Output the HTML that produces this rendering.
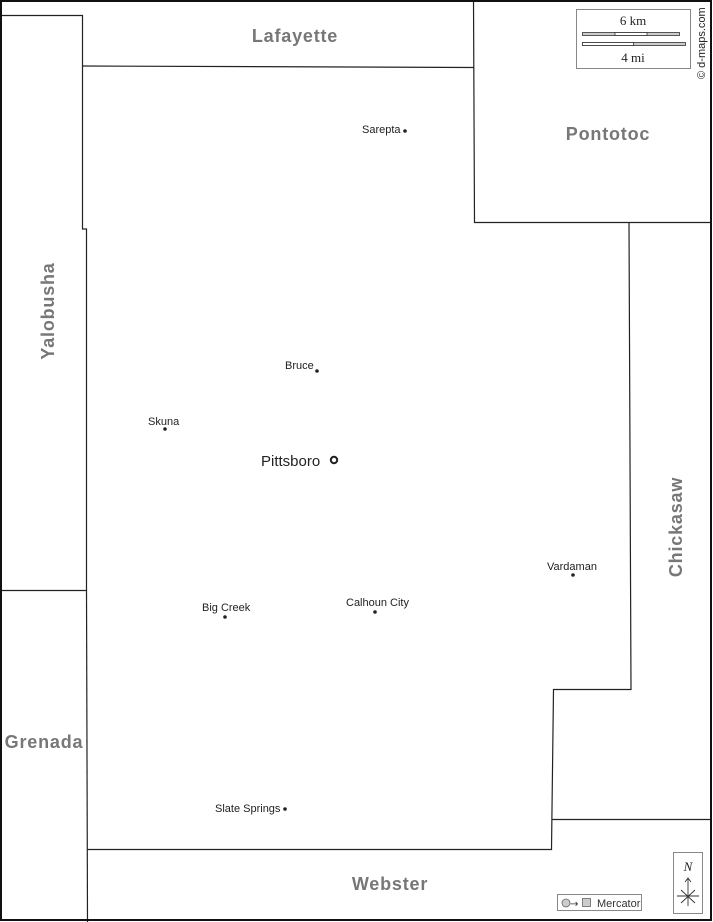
<!DOCTYPE html>
<html><head><meta charset="utf-8"><style>
html,body{margin:0;padding:0;background:#fff}
svg{display:block}
.c{font-family:"Liberation Sans",Arial,sans-serif;font-weight:bold;font-size:18px;letter-spacing:0.8px;fill:#777}
.t{font-family:"Liberation Sans",Arial,sans-serif;font-size:11px;fill:#222}
</style></head><body>
<svg width="713" height="922" viewBox="0 0 713 922" xmlns="http://www.w3.org/2000/svg">
<rect x="0" y="0" width="713" height="922" fill="#fff"/>
<g fill="none" stroke="#222" stroke-width="1.2">
<polyline points="0,15.5 82.5,15.5 82.5,229 86.5,229 86.5,590.5 0,590.5"/>
<line x1="86.5" y1="590" x2="87.5" y2="922"/>
<polyline points="82.5,66 473.5,67.5"/>
<polyline points="473.5,0 474.5,222.5 711,222.5"/>
<polyline points="629,222.5 631,689.5 553.5,689.5 551.5,849.5 87.5,849.5"/>
<line x1="552.5" y1="819.5" x2="711" y2="819.5"/>
</g>
<rect x="1" y="1" width="710" height="919" fill="none" stroke="#111" stroke-width="2"/>
<text class="c" x="295" y="42" text-anchor="middle">Lafayette</text>
<text class="c" x="608" y="140" text-anchor="middle">Pontotoc</text>
<text class="c" x="44" y="748" text-anchor="middle">Grenada</text>
<text class="c" x="390" y="890" text-anchor="middle">Webster</text>
<text class="c" transform="translate(54,311) rotate(-90)" text-anchor="middle">Yalobusha</text>
<text class="c" transform="translate(682,527) rotate(-90)" text-anchor="middle">Chickasaw</text>
<g fill="#222">
<circle cx="405" cy="131" r="1.8"/><circle cx="317" cy="371" r="1.8"/><circle cx="165" cy="429" r="1.8"/>
<circle cx="573" cy="575" r="1.8"/><circle cx="225" cy="617" r="1.8"/><circle cx="375" cy="612" r="1.8"/>
<circle cx="285" cy="809" r="1.8"/>
</g>
<text class="t" x="362" y="133">Sarepta</text>
<text class="t" x="285" y="369">Bruce</text>
<text class="t" x="148" y="425">Skuna</text>
<text class="t" x="547" y="570">Vardaman</text>
<text class="t" x="202" y="611">Big Creek</text>
<text class="t" x="346" y="606">Calhoun City</text>
<text class="t" x="215" y="812">Slate Springs</text>
<text x="261" y="466" font-family="Liberation Sans,Arial,sans-serif" font-size="15" fill="#222">Pittsboro</text>
<circle cx="334" cy="460" r="3.2" fill="none" stroke="#222" stroke-width="2"/>
<rect x="576.5" y="9.5" width="114" height="59" fill="#fff" stroke="#888"/>
<text x="633" y="25" text-anchor="middle" font-family="Liberation Serif,serif" font-size="13" fill="#222">6 km</text>
<rect x="582.5" y="32.5" width="97" height="3" fill="#ccc" stroke="#333" stroke-width="0.8"/>
<rect x="615" y="32.5" width="32" height="3" fill="#fff" stroke="#333" stroke-width="0.8"/>
<rect x="582.5" y="42.5" width="103" height="3" fill="#ccc" stroke="#333" stroke-width="0.8"/>
<rect x="582.5" y="42.5" width="51" height="3" fill="#fff" stroke="#333" stroke-width="0.8"/>
<text x="633" y="62" text-anchor="middle" font-family="Liberation Serif,serif" font-size="13" fill="#222">4 mi</text>
<text transform="translate(705,79) rotate(-90)" font-family="Liberation Sans,Arial,sans-serif" font-size="11" fill="#222">© d-maps.com</text>
<rect x="673.5" y="852.5" width="29" height="61" fill="#fff" stroke="#888"/>
<text x="688" y="871" text-anchor="middle" font-family="Liberation Serif,serif" font-style="italic" font-size="13" fill="#222">N</text>
<g stroke="#333" stroke-width="0.9" fill="none">
<line x1="688" y1="878" x2="688" y2="906"/><polyline points="685,882 688,878 691,882"/>
<line x1="677" y1="896" x2="699" y2="896"/><line x1="681" y1="890" x2="695" y2="903"/><line x1="695" y1="890" x2="681" y2="903"/>
</g>
<rect x="557.5" y="894.5" width="84" height="16" fill="#fff" stroke="#888"/>
<circle cx="566" cy="903" r="4" fill="#ccc" stroke="#666" stroke-width="0.8"/>
<text x="570" y="907" font-family="DejaVu Sans,sans-serif" font-size="10" fill="#333">→</text>
<rect x="582.5" y="898.5" width="8" height="8" fill="#ccc" stroke="#666" stroke-width="0.8"/>
<text x="597" y="907" font-family="Liberation Sans,Arial,sans-serif" font-size="11" fill="#333">Mercator</text>
</svg>
</body></html>
